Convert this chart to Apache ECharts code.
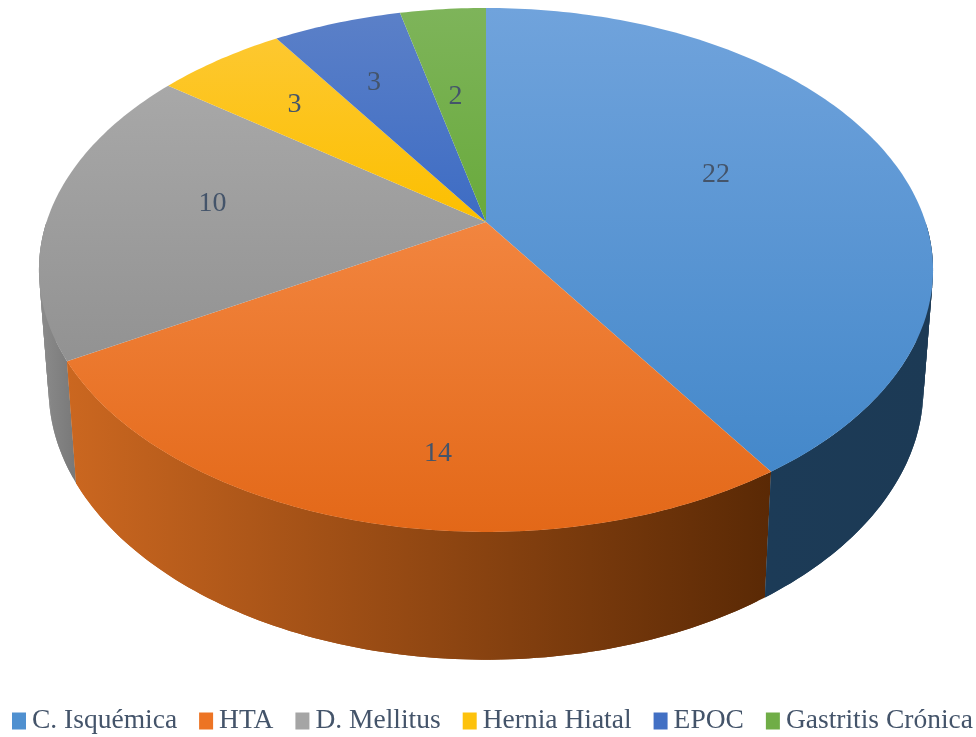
<!DOCTYPE html>
<html>
<head>
<meta charset="utf-8">
<style>
html,body{margin:0;padding:0;background:#fff}
#chart{width:976px;height:737px;filter:blur(0.5px)}
</style>
<script src="https://cdn.jsdelivr.net/npm/echarts@6/dist/echarts.min.js"></script>
</head>
<body>
<div id="chart"></div>
<script>
// Data
const categories = ['C. Isquémica', 'HTA', 'D. Mellitus', 'Hernia Hiatal', 'EPOC', 'Gastritis Crónica'];
const values = [22, 14, 10, 3, 3, 2];

// Colours
const legendColors = ['#4f90d0', '#ed7424', '#a5a5a5', '#fdc20c', '#4270c4', '#70ad47'];
const topColors = [
  ['#70a3dc', '#4488ca'],
  ['#f2853f', '#e36818'],
  ['#a8a8a8', '#929292'],
  ['#fdc830', '#fcbf00'],
  ['#5b80c8', '#3d6cc4'],
  ['#7eb45a', '#69aa3c']
];
const wallColors = [
  ['#1c3b57', '#1c3a55'],
  ['#cb6720', '#5a2905'],
  ['#8c8c8c', '#787878'],
  ['#997300', '#997300'],
  ['#264478', '#264478'],
  ['#43682b', '#43682b']
];

// Perspective of the pie: top disc and bottom disc of the cylinder
const topDisc = { cx: 486, cy: 222, ax: 439.5, ay: 253.2, persp: 0.183 };
const baseDisc = { cx: 486, cy: 339, ax: 430, ay: 262, persp: 0.183 };
const labelRadius = 0.6;
const labelNudge = [[-15, -5], [20, 66], [-12, -10], [-24, -15], [-17, -13], [-3, 11]];
const textColor = '#44546a';
// Only the front half of the wall can be seen
const wallFrom = 0.25, wallTo = 0.75;

const total = values.reduce((a, b) => a + b, 0);
const starts = values.map((_, i) => values.slice(0, i).reduce((a, b) => a + b, 0));

function project(disc, turn, r) {
  const t = turn * 2 * Math.PI;
  const u = r * Math.sin(t), v = r * Math.cos(t);
  const d = 1 + disc.persp * v;
  return [disc.cx + disc.ax * u / d, disc.cy - disc.ay * v / d];
}
function arc(disc, a, b) {
  const n = Math.max(2, Math.ceil((b - a) * 360));
  const pts = [];
  for (let k = 0; k <= n; k++) pts.push(project(disc, a + (b - a) * k / n, 1));
  return pts;
}
function grad(c) {
  return new echarts.graphic.LinearGradient(0, 0, 0, 1,
    [{ offset: 0, color: c[0] }, { offset: 1, color: c[1] }]);
}
function wallParts(i, a, b) {
  const from = Math.max(a, wallFrom), to = Math.min(b, wallTo);
  if (to <= from) return [];
  const t = arc(topDisc, from, to), s = arc(baseDisc, from, to);
  const xs = t.concat(s).map(p => p[0]);
  const fill = new echarts.graphic.LinearGradient(Math.min(...xs), 0, Math.max(...xs), 0,
    [{ offset: 0, color: wallColors[i][0] }, { offset: 1, color: wallColors[i][1] }], true);
  const parts = [];
  for (let k = 0; k + 1 < t.length; k++) {
    // each strip reaches over the next one, so no seams show between them
    const e = Math.min(k + 2, t.length - 1);
    parts.push({
      type: 'polygon', z2: 1 + k / t.length,
      shape: { points: [t[k], t[k + 1], t[e], s[e], s[k + 1], s[k]] },
      style: { fill }
    });
  }
  return parts;
}

const series = categories.map((name, i) => ({
  type: 'custom',
  name,
  coordinateSystem: 'none',
  silent: true,
  animation: false,
  clip: false,
  itemStyle: { color: legendColors[i] },
  data: [[values[i]]],
  renderItem: function (params, api) {
    const a = starts[i] / total;
    const b = a + api.value(0) / total;
    const apex = project(topDisc, 0, 0);
    const mid = project(topDisc, (a + b) / 2, labelRadius);
    return {
      type: 'group',
      children: wallParts(i, a, b).concat([
        { type: 'polygon', z2: 10, shape: { points: [apex].concat(arc(topDisc, a, b)) },
          style: { fill: grad(topColors[i]) } },
        { type: 'text', z2: 20,
          x: mid[0] + labelNudge[i][0], y: mid[1] + labelNudge[i][1],
          style: { text: String(api.value(0)), fill: textColor, align: 'center', verticalAlign: 'middle',
            font: '28px "Liberation Serif"' } }
      ])
    };
  }
}));

const chart = echarts.init(document.getElementById('chart'), null, { renderer: 'canvas' });
chart.setOption({
  animation: false,
  backgroundColor: '#ffffff',
  legend: {
    data: categories,
    left: 12,
    top: 707,
    width: 964,
    icon: 'rect',
    itemWidth: 14,
    itemHeight: 17,
    itemGap: 22,
    padding: 0,
    selectedMode: false,
    textStyle: { fontFamily: '"Liberation Serif"', fontSize: 27.5, color: textColor, padding: [0, 0, 0, 1] }
  },
  series
});
</script>
</body>
</html>
